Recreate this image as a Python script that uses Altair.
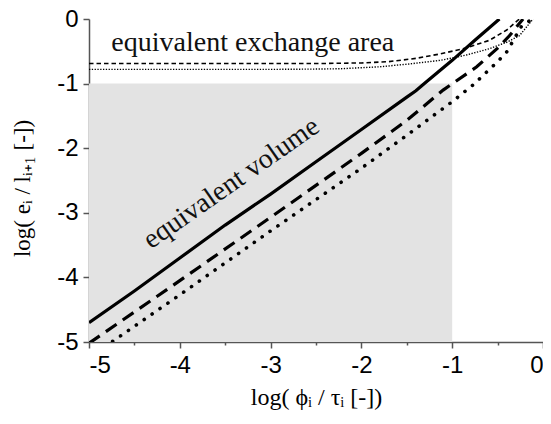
import altair as alt
import pandas as pd

# ---- data ----
solid_x = [-5.0, -4.5, -4.0, -3.5, -3.0, -2.5, -2.0, -1.5, -1.4, -1.3, -1.0, -0.75, -0.48]
solid_y = [-4.70, -4.21, -3.70, -3.19, -2.71, -2.21, -1.71, -1.21, -1.11, -0.99, -0.64, -0.33, 0.0]

dash_x = [-5.0, -4.0, -3.0, -2.0, -1.5, -1.1, -0.73, -0.5, -0.37, -0.22]
dash_y = [-5.02, -4.05, -3.07, -2.08, -1.57, -1.10, -0.74, -0.45, -0.26, 0.0]

dot_x = [-4.74, -4.0, -3.0, -2.0, -1.5, -1.0, -0.77, -0.5, -0.4, -0.24, -0.12]
dot_y = [-4.99, -4.27, -3.28, -2.31, -1.80, -1.28, -1.02, -0.66, -0.51, -0.12, 0.0]

thin_dash_x = [-5.0, -4.0, -3.0, -2.5, -2.0, -1.7, -1.4, -1.13, -0.85, -0.59, -0.4, -0.26]
thin_dash_y = [-0.69, -0.69, -0.69, -0.69, -0.68, -0.66, -0.61, -0.54, -0.45, -0.33, -0.17, 0.0]

thin_dot_x = [-5.0, -3.0, -2.5, -2.23, -1.8, -1.5, -1.13, -0.85, -0.59, -0.4, -0.26, -0.11]
thin_dot_y = [-0.78, -0.78, -0.775, -0.77, -0.74, -0.70, -0.64, -0.56, -0.46, -0.36, -0.26, 0.0]

region = {"x": [-5.0], "x2": [-1.0], "y": [-5.0], "y2": [-1.0]}

tick_values = [-5, -4.5, -4, -3.5, -3, -2.5, -2, -1.5, -1, -0.5, 0]

labels = pd.DataFrame({
    "x": [-4.754, -3.38],
    "y": [-0.49, -2.646],
    "text": ["equivalent exchange area", "equivalent volume"],
})

# ---- chart ----
xs = alt.Scale(domain=[-5, 0], nice=False, zero=False)
ys = alt.Scale(domain=[-5, 0], nice=False, zero=False)

label_expr = "datum.value % 1 == 0 ? (datum.value == 0 ? '0' : '-' + abs(datum.value)) : ''"
tick_size = {"condition": {"test": "datum.value % 1 == 0", "value": 6}, "value": 3}

x_axis = alt.Axis(values=tick_values, labelExpr=label_expr, tickSize=tick_size,
                  labelPadding=5, title="log( ϕᵢ / τᵢ  [-])", titleFontSize=24,
                  titleX=227, titleY=62, titleBaseline="alphabetic", titleAlign="center")
y_axis = alt.Axis(values=tick_values, labelExpr=label_expr, tickSize=tick_size,
                  labelPadding=5, title="log( eᵢ / lᵢ₊₁  [-])", titleFontSize=23,
                  titleX=-60, titleY=169, titleAngle=270, titleBaseline="alphabetic",
                  titleAlign="center")

rect = alt.Chart(pd.DataFrame(region)).mark_rect(color="#e3e3e3").encode(
    x=alt.X("x:Q", scale=xs, axis=x_axis), x2="x2:Q",
    y=alt.Y("y:Q", scale=ys, axis=y_axis), y2="y2:Q")


def line(xv, yv, width, dash=None, cap="butt"):
    df = pd.DataFrame({"x": xv, "y": yv})
    kw = dict(color="black", strokeWidth=width, strokeCap=cap, clip=True)
    if dash is not None:
        kw["strokeDash"] = dash
    return alt.Chart(df).mark_line(**kw).encode(
        x=alt.X("x:Q", scale=xs), y=alt.Y("y:Q", scale=ys), order="x:Q")


l_solid = line(solid_x, solid_y, 3.2)
l_dash = line(dash_x, dash_y, 3.2, [13, 7.5])
l_dot = line(dot_x, dot_y, 3.6, [0.1, 9.5], "round")
l_tdash = line(thin_dash_x, thin_dash_y, 1.6, [4.5, 3])
l_tdot = line(thin_dot_x, thin_dot_y, 1.4, [1.3, 1.5])

t1 = alt.Chart(labels.iloc[[0]]).mark_text(font="Liberation Serif", fontSize=28, align="left",
                                           baseline="alphabetic", color="#111").encode(
    x=alt.X("x:Q", scale=xs), y=alt.Y("y:Q", scale=ys), text="text:N")
t2 = alt.Chart(labels.iloc[[1]]).mark_text(font="Liberation Serif", fontSize=28, align="center",
                                           baseline="alphabetic", angle=325, color="#111").encode(
    x=alt.X("x:Q", scale=xs), y=alt.Y("y:Q", scale=ys), text="text:N")

chart = alt.layer(rect, l_tdash, l_tdot, l_solid, l_dash, l_dot, t1, t2).properties(
    width=454, height=323,
    autosize=alt.AutoSizeParams(type="none"),
    padding={"left": 81, "top": 11, "right": 0, "bottom": 70},
    background="white",
).configure_view(stroke=None).configure_axis(
    grid=False, domainColor="#555", tickColor="#555", domainWidth=1.5, tickWidth=1.5,
    labelFont="Liberation Sans", labelFontSize=24, labelColor="black",
    titleFont="Liberation Serif", titleFontWeight="normal", titleColor="black",
)

chart.save("out.html", embed_options={"renderer": "svg", "actions": False})
